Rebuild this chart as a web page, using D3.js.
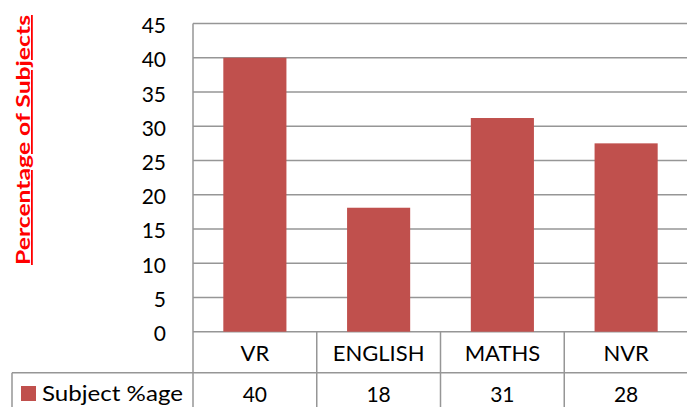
<!DOCTYPE html>
<html>
<head>
<meta charset="utf-8">
<script src="https://cdn.jsdelivr.net/npm/d3@7"></script>
<style>
  body { margin: 0; background: #fff; }
  svg { display: block; font-family: Lato, "Open Sans", sans-serif; }
</style>
</head>
<body>
<script>
const categories = ["VR", "ENGLISH", "MATHS", "NVR"];
const values = [40, 18.1, 31.2, 27.5];
const yTicks = [0, 5, 10, 15, 20, 25, 30, 35, 40, 45];
const seriesName = "Subject %age";
const axisTitle = "Percentage of Subjects";

const w = 687, h = 407;
const plotLeft = 193, plotRight = 688, plotTop = 23.5, plotBottom = 331.7;
const rowH = 41;
const tableLeft = 12;
const grid = "#969696";
const barColor = "#C0504D";

const svg = d3.select("body").append("svg")
  .attr("width", w)
  .attr("height", h);

const x = d3.scaleBand().domain(categories).range([plotLeft, plotRight]).paddingInner(0).paddingOuter(0);
const y = d3.scaleLinear().domain([0, 45]).range([plotBottom, plotTop]);

// gridlines
svg.append("g").selectAll("line").data(yTicks).enter().append("line")
  .attr("x1", plotLeft).attr("x2", plotRight)
  .attr("y1", d => y(d)).attr("y2", d => y(d))
  .attr("stroke", grid).attr("stroke-width", 1.5);

// bars
const bw = x.bandwidth() * 0.51;
svg.append("g").selectAll("rect").data(values).enter().append("rect")
  .attr("x", (d, i) => x(categories[i]) + (x.bandwidth() - bw) / 2)
  .attr("y", d => y(d))
  .attr("width", bw)
  .attr("height", d => y(0) - y(d))
  .attr("fill", barColor);

// y axis labels
const yAxis = d3.axisLeft(y).tickValues(yTicks).tickSize(0).tickPadding(27);
const ya = svg.append("g").attr("transform", "translate(" + plotLeft + ",0)").call(yAxis);
ya.select(".domain").remove();
ya.selectAll("text")
  .attr("font-size", 21)
  .attr("font-family", "Lato, sans-serif")
  .attr("dy", "0.43em")
  .attr("fill", "#000");

// data table lines
const t = svg.append("g").attr("stroke", grid).attr("stroke-width", 1.5);
t.append("line").attr("x1", plotLeft).attr("x2", plotLeft).attr("y1", plotTop).attr("y2", h);
t.append("line").attr("x1", tableLeft).attr("x2", plotRight).attr("y1", plotBottom + rowH).attr("y2", plotBottom + rowH);
t.append("line").attr("x1", tableLeft).attr("x2", tableLeft).attr("y1", plotBottom + rowH).attr("y2", h);
t.selectAll(".sep").data(categories).enter().append("line")
  .attr("x1", d => x(d) + x.bandwidth())
  .attr("x2", d => x(d) + x.bandwidth())
  .attr("y1", plotBottom).attr("y2", h);

// category labels
svg.append("g").selectAll("text").data(categories).enter().append("text")
  .attr("x", d => x(d) + x.bandwidth() / 2)
  .attr("y", 361)
  .attr("text-anchor", "middle")
  .attr("font-size", 22)
  .text(d => d);

// values row
svg.append("g").selectAll("text").data(values).enter().append("text")
  .attr("x", (d, i) => x(categories[i]) + x.bandwidth() / 2)
  .attr("y", 402)
  .attr("text-anchor", "middle")
  .attr("font-size", 21)
  .text(d => d3.format(".0f")(d));

// legend key
svg.append("rect").attr("x", 21).attr("y", 386).attr("width", 15).attr("height", 15).attr("fill", barColor);
svg.append("text").attr("x", 42).attr("y", 401).attr("font-size", 22)
  .attr("textLength", 141).attr("lengthAdjust", "spacingAndGlyphs")
  .text(seriesName);

// y axis title
svg.append("text")
  .attr("transform", "translate(30,140) rotate(-90)")
  .attr("text-anchor", "middle")
  .attr("font-size", 18)
  .attr("font-weight", "bold")
  .attr("fill", "#FF0000")
  .attr("text-decoration", "underline")
  .attr("textLength", 250)
  .attr("lengthAdjust", "spacingAndGlyphs")
  .text(axisTitle);
</script>
</body>
</html>
